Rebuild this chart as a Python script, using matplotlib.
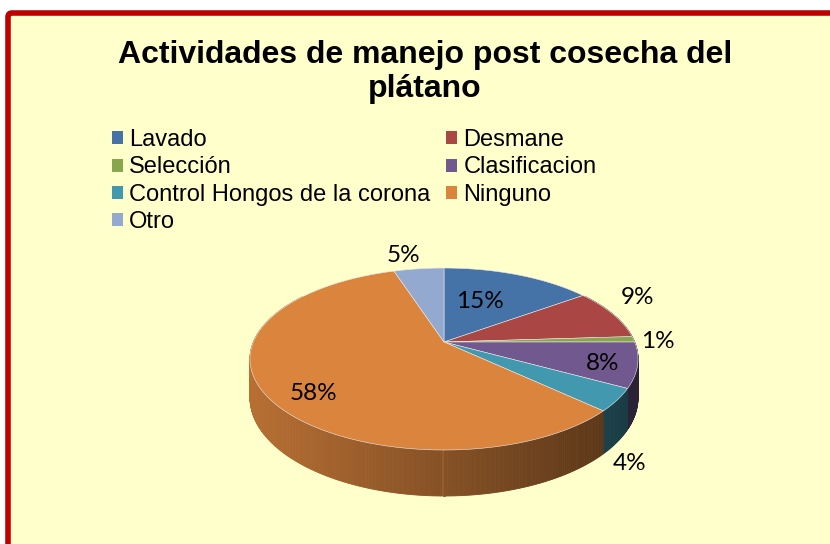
import matplotlib.pyplot as plt
import matplotlib.patches as mpatches
from matplotlib.colors import to_rgb
import numpy as np

# data
labels = ['Lavado', 'Desmane', 'Selección', 'Clasificacion',
          'Control Hongos de la corona', 'Ninguno', 'Otro']
values = [15, 9, 1, 8, 4, 58, 5]
pct_text = ['15%', '9%', '1%', '8%', '4%', '58%', '5%']
colors = ['#4572A7', '#AA4643', '#89A54E', '#71588F', '#4198AF', '#DB843D', '#93A9CF']
title_lines = ['Actividades de manejo post cosecha del', 'plátano']

# label anchors (pixels)
label_xy = [(480, 302), (637, 297), (658, 341), (603, 363), (630, 463), (313, 393), (403, 255)]

W, H = 830, 544
fig = plt.figure(figsize=(W / 100, H / 100), dpi=100)
fig.patch.set_facecolor('white')
ax = fig.add_axes([0, 0, 1, 1])
ax.set_xlim(0, W)
ax.set_ylim(H, 0)
ax.axis('off')

# chart frame (right and bottom edges are cut off in the original)
ax.add_patch(mpatches.FancyBboxPatch((8, 13), 840, 560,
                                     boxstyle='round,pad=0,rounding_size=4',
                                     facecolor='#FFFFCC', edgecolor='#C00000',
                                     linewidth=4, zorder=0))

# 3d pie geometry (simple perspective)
cx, cy = 444, 342
A, B, k, D = 190.6, 87.8, 0.187, 37.4


def rim(t, drop=0.0):
    u = np.sin(t)
    v = -np.cos(t)
    s = 1.0 / (1 - k * v)
    return cx + A * u * s, cy + B * v * s + drop * s


frac = np.array(values, dtype=float) / sum(values)
edges = np.concatenate([[0], np.cumsum(frac)]) * 2 * np.pi


def slice_of(t):
    t = t % (2 * np.pi)
    return min(np.searchsorted(edges, t, side='right') - 1, len(values) - 1)


# side wall, drawn in thin strips back to front
ts = np.linspace(np.radians(55), np.radians(305), 400)
strips = []
for i in range(len(ts) - 1):
    t0, t1 = ts[i], ts[i + 1]
    x0, y0 = rim(t0)
    x1, y1 = rim(t1)
    x0b, y0b = rim(t0, D)
    x1b, y1b = rim(t1, D)
    idx = slice_of((t0 + t1) / 2)
    xm = (x0 + x1) / 2
    f = 0.84 - 0.46 * (xm - 250) / 388
    col = np.clip(np.array(to_rgb(colors[idx])) * f, 0, 1)
    strips.append((-np.cos((t0 + t1) / 2),
                   [(x0, y0), (x1, y1), (x1b, y1b), (x0b, y0b)], col))
strips.sort(key=lambda s: s[0])
for _, pts, col in strips:
    ax.add_patch(mpatches.Polygon(pts, closed=True, facecolor=col,
                                  edgecolor=col, linewidth=0.6, zorder=2))

# top faces
for i in range(len(values)):
    tt = np.linspace(edges[i], edges[i + 1], max(int(frac[i] * 400), 4))
    xs, ys = rim(tt)
    pts = [(cx, cy)] + list(zip(xs, ys))
    ax.add_patch(mpatches.Polygon(pts, closed=True, facecolor=colors[i],
                                  edgecolor='#E8E8E8', linewidth=0.4, zorder=3))

# percentage labels
for (x, y), s in zip(label_xy, pct_text):
    ax.text(x, y, s, ha='center', va='center', fontsize=17.5, family='Lato',
            color='black', zorder=5)

# title, two lines on fixed baselines
for yb, line in zip([63, 97], title_lines):
    ax.text(425, yb, line, ha='center', va='baseline', fontsize=23,
            fontweight='bold', family='Liberation Sans', zorder=5)

# legend (row-wise order like the original)
handles = [mpatches.Patch(facecolor=c, edgecolor='none') for c in colors]
ordr = [0, 2, 4, 6, 1, 3, 5]
fig.legend([handles[i] for i in ordr], [labels[i] for i in ordr], ncol=2,
           loc='upper left', bbox_to_anchor=(112 / W, 1 - 129 / H),
           frameon=False, prop={'family': 'Liberation Sans', 'size': 17},
           handlelength=0.47, handleheight=0.47, handletextpad=0.25,
           columnspacing=0.68, labelspacing=0.23, borderpad=0, borderaxespad=0)

fig.savefig('out.png', dpi=100, facecolor=fig.get_facecolor())
